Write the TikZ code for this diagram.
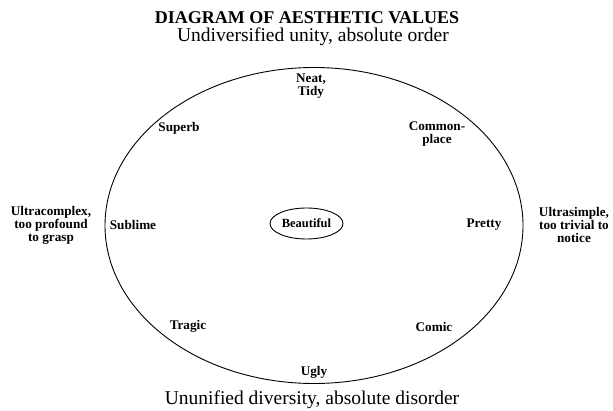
\documentclass[tikz,border=0pt]{standalone}
\usepackage{fontspec}
\setmainfont{Liberation Serif}
\usetikzlibrary{shapes.geometric}

\tikzset{
  value/.style={font=\bfseries\fontsize{13.2}{13}\selectfont, align=center, inner sep=0pt},
  heading/.style={font=\fontsize{19.5}{22}\selectfont, inner sep=0pt, anchor=base},
}

\begin{document}
\begin{tikzpicture}[x=1pt,y=-1pt]
	\useasboundingbox (0,0) rectangle (613,411);
	% headings
	\node[heading, font=\bfseries\fontsize{18}{20}\selectfont] (title) at (307,24) {DIAGRAM OF AESTHETIC VALUES};
	\node[heading] (order) at (313,42) {Undiversified unity, absolute order};
	\node[heading] (disorder) at (312,405) {Ununified diversity, absolute disorder};
	% the whole range
	\node[draw, ellipse, line width=0.9pt, minimum width=418pt, minimum height=316pt, inner sep=0pt] (range) at (314,225.5) {};
	\node[draw, ellipse, line width=0.9pt, minimum width=73pt, minimum height=31pt, inner sep=0pt, font=\bfseries\fontsize{12.5}{13}\selectfont] (beautiful) at (306.5,223.5) {Beautiful};
	% values on the ring
	\node[value] (neat) at (311,86) {Neat,\\Tidy};
	\node[value] (superb) at (179,128) {Superb};
	\node[value] (common) at (437,134) {Common-\\place};
	\node[value] (sublime) at (133,225) {Sublime};
	\node[value] (pretty) at (484,225) {Pretty};
	\node[value] (tragic) at (188,326) {Tragic};
	\node[value] (comic) at (434,327) {Comic};
	\node[value] (ugly) at (314,372) {Ugly};
	% outside
	\node[value] (ultracomplex) at (51,225) {Ultracomplex,\\too profound\\to grasp};
	\node[value] (ultrasimple) at (574,225) {Ultrasimple,\\too trivial to\\notice};
\end{tikzpicture}
\end{document}
